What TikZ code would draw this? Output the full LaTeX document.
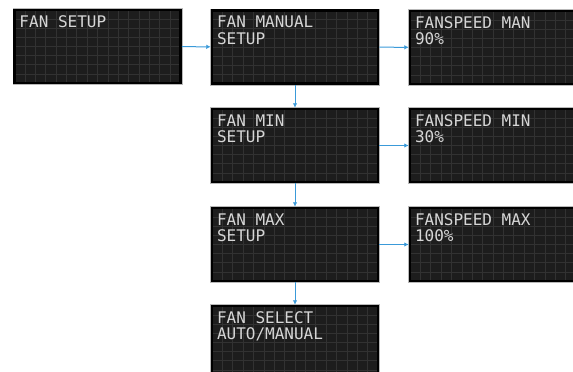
\documentclass[tikz,border=0pt]{standalone}
\usepackage{fontspec}
\newfontfamily\lcdfont{DejaVu Sans Mono}
\usetikzlibrary{arrows.meta,calc}

\definecolor{lcdback}{HTML}{1D1D1D}
\definecolor{lcdgrid}{HTML}{323232}
\definecolor{lcdink}{HTML}{D6D6D6}
\definecolor{flowblue}{HTML}{3A9AD9}

\newcommand{\lcdlines}[1]{\parbox[c][62pt][t]{156pt}{\fontsize{16}{16.5}\selectfont\lcdfont #1}}

\begin{document}
\begin{tikzpicture}[
  x=1pt, y=-1pt,
  every node/.style={rectangle, fill=lcdback, draw=black, line width=2.5pt,
    preaction={draw=gray!55, line width=4pt},
    minimum width=166pt, minimum height=73pt, inner xsep=5pt, inner ysep=5pt,
    text=lcdink,
    path picture={
      \foreach \i in {1,...,15}
        \draw[lcdgrid, line width=0.7pt]
          ($(path picture bounding box.north west)!\i/16!(path picture bounding box.north east)$) --
          ($(path picture bounding box.south west)!\i/16!(path picture bounding box.south east)$);
      \foreach \j in {1,...,7}
        \draw[lcdgrid, line width=0.7pt]
          ($(path picture bounding box.north west)!\j/8!(path picture bounding box.south west)$) --
          ($(path picture bounding box.north east)!\j/8!(path picture bounding box.south east)$);
    }},
  flow/.style={draw=flowblue, line width=1pt, -{Latex[length=4.5pt,width=4.5pt]}}
]
\useasboundingbox (0,0) rectangle (573,372);

% Nodes
\node (setup) at (97.5,46.5) {\lcdlines{FAN SETUP}};
\node (manual) at (295,47) {\lcdlines{FAN MANUAL\\SETUP}};
\node (min) at (295,145.5) {\lcdlines{FAN MIN\\SETUP}};
\node (max) at (295,244.5) {\lcdlines{FAN MAX\\SETUP}};
\node (select) at (295,342.5) {\lcdlines{FAN SELECT\\AUTO/MANUAL}};
\node (speedman) at (493,47.5) {\lcdlines{FANSPEED MAN\\90\%}};
\node (speedmin) at (493,145.5) {\lcdlines{FANSPEED MIN\\30\%}};
\node (speedmax) at (493,244.5) {\lcdlines{FANSPEED MAX\\100\%}};

% Edges
\draw[flow] (setup) -- (manual);
\draw[flow] (manual) -- (speedman);
\draw[flow] (manual) -- (min);
\draw[flow] (min) -- (speedmin);
\draw[flow] (min) -- (max);
\draw[flow] (max) -- (speedmax);
\draw[flow] (max) -- (select);
\end{tikzpicture}
\end{document}
